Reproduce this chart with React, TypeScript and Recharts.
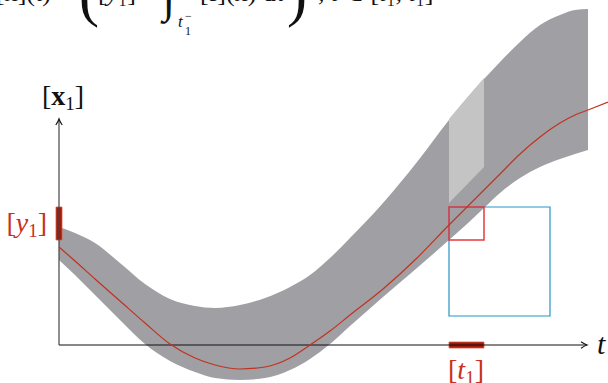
import React from 'react';
import { ComposedChart, Area, Line, XAxis, YAxis, ReferenceArea, ReferenceLine, ReferenceDot } from 'recharts';

// sample times of the enclosure tube
const tSamples = [0, 1.6, 3.6, 6.1, 8.6, 11.1, 13.6, 15.6, 18.1, 20.6, 23.1, 25.1, 27.1, 29.1, 32.4, 35.8, 39.0, 40.8, 42.5, 44.1, 46.1, 48.1, 50.1, 51.6, 52.9];
const tubeUpper = [11.8, 11.2, 10.2, 8.2, 6.1, 4.6, 3.9, 3.7, 4.0, 4.7, 5.8, 7.0, 8.7, 10.7, 14.2, 18.3, 22.5, 24.7, 26.6, 28.3, 30.3, 32.0, 33.0, 33.5, 33.6];
const tubeLower = [8.5, 7.0, 5.0, 2.5, 0.1, -1.6, -2.7, -3.3, -3.5, -3.3, -2.5, -1.4, 0.1, 1.9, 4.8, 7.7, 10.5, 12.1, 13.7, 15.2, 16.7, 17.8, 18.6, 19.1, 19.5];

// true trajectory x1(t)
const trajT = [...tSamples, 54.9];
const trajX = [9.8, 8.4, 6.6, 4.4, 2.2, 0.1, -1.3, -2.0, -2.4, -2.2, -1.3, 0.0, 1.4, 3.0, 5.6, 8.7, 12.0, 13.8, 15.5, 17.1, 19.1, 20.8, 22.2, 23.0, 23.5, 24.3];

// a-priori hull over [t1]
const hullT = [39.0, 42.5];
const hullLower = [14.2, 17.8];
const hullUpper = [22.6, 26.7];

// measurement intervals
const t1 = [39.0, 42.5];
const y1 = [10.5, 13.8];
const box = { tEnd: 49.1, yLow: 2.9 };

const tAxisEnd = 52.8;
const xAxisEnd = 22.6;

const tubeRows = tSamples.map((t, i) => ({ t, band: [tubeLower[i], tubeUpper[i]] }));
const trajRows = trajT.map((t, i) => ({ t, x: trajX[i] }));
const hullRows = hullT.map((t, i) => ({ t, band: [hullLower[i], hullUpper[i]] }));

const serif = '"Liberation Serif", "DejaVu Serif", serif';
const INK = '#111';
const RED = '#c8321e';

const ArrowUp = (p: any) => (
  <path
    d={`M ${p.cx - 3.2} ${p.cy + 6} Q ${p.cx - 0.6} ${p.cy + 2} ${p.cx} ${p.cy} Q ${p.cx + 0.6} ${p.cy + 2} ${p.cx + 3.2} ${p.cy + 6}`}
    fill="none"
    stroke={INK}
    strokeWidth={1.1}
  />
);

const ArrowRight = (p: any) => (
  <path
    d={`M ${p.cx - 6} ${p.cy - 3.2} Q ${p.cx - 2} ${p.cy - 0.6} ${p.cx} ${p.cy} Q ${p.cx - 2} ${p.cy + 0.6} ${p.cx - 6} ${p.cy + 3.2}`}
    fill="none"
    stroke={INK}
    strokeWidth={1.1}
  />
);

export default function App() {
  return (
    <div style={{ position: 'absolute', left: 0, top: 0, background: '#fff' }}>
      <ComposedChart width={608} height={383} margin={{ top: 0, right: 0, bottom: 0, left: 0 }}>
        <XAxis type="number" dataKey="t" domain={[-5.9, 54.9]} hide allowDataOverflow />
        <YAxis type="number" domain={[-3.8, 34.5]} hide allowDataOverflow />

        <Area data={tubeRows} dataKey="band" type="monotone" stroke="none" fill="#a09fa4" fillOpacity={1} dot={false} activeDot={false} isAnimationActive={false} />
        <Area data={hullRows} dataKey="band" type="linear" stroke="none" fill="#c4c4c4" fillOpacity={1} dot={false} activeDot={false} isAnimationActive={false} />

        <ReferenceLine segment={[{ x: 0, y: 0 }, { x: tAxisEnd, y: 0 }]} stroke={INK} strokeWidth={1.2} />
        <ReferenceLine segment={[{ x: 0, y: 0 }, { x: 0, y: xAxisEnd }]} stroke="#444" strokeWidth={1.2} />
        <ReferenceDot x={tAxisEnd} y={0} shape={ArrowRight} />
        <ReferenceDot x={0} y={xAxisEnd} shape={ArrowUp} />

        <Line data={trajRows} dataKey="x" type="monotone" stroke="#c1331f" strokeWidth={1.2} dot={false} activeDot={false} isAnimationActive={false} />

        <ReferenceArea x1={t1[0]} x2={box.tEnd} y1={box.yLow} y2={y1[1]} fill="none" stroke="#2596c4" strokeWidth={1.2} fillOpacity={0} />
        <ReferenceArea x1={t1[0]} x2={t1[1]} y1={y1[0]} y2={y1[1]} fill="none" stroke="#e8383f" strokeWidth={1.5} fillOpacity={0} />
        <ReferenceArea x1={-0.3} x2={0.3} y1={y1[0]} y2={y1[1]} fill="#a3190a" fillOpacity={1} stroke="#d75a45" strokeWidth={0.8} />
        <ReferenceArea x1={t1[0]} x2={t1[1]} y1={-0.3} y2={0.3} fill="#a3190a" fillOpacity={1} stroke="#d75a45" strokeWidth={0.8} />

        {/* axis labels */}
        <text x={42} y={105} fontFamily={serif} fontSize={28} fill={INK}>
          [<tspan fontWeight="bold">x</tspan><tspan fontSize={19} dy={5}>1</tspan><tspan dy={-5}>]</tspan>
        </text>
        <text x={47} y={232} fontFamily={serif} fontSize={28} fill={RED} textAnchor="end">
          [<tspan fontStyle="italic">y</tspan><tspan fontSize={19} dy={5}>1</tspan><tspan dy={-5}>]</tspan>
        </text>
        <text x={597} y={354} fontFamily={serif} fontSize={30} fontStyle="italic" fill={INK}>t</text>
        <text x={466} y={379} fontFamily={serif} fontSize={28} fill={RED} textAnchor="middle">
          [<tspan fontStyle="italic">t</tspan><tspan fontSize={19} dy={5}>1</tspan><tspan dy={-5}>]</tspan>
        </text>

        {/* enclosure formula, cut by the top edge */}
        <g fontFamily={serif} fill={INK}>
          <text x={-4} y={1} fontSize={26}>[x](t) =</text>
          <text x={79} y={15} fontSize={60}>(</text>
          <text x={98} y={1} fontSize={26}>[<tspan fontStyle="italic">y</tspan>₁] +</text>
          <text x={163} y={12} fontSize={44} fontStyle="italic">∫</text>
          <text x={178} y={27} fontSize={17} fontStyle="italic">t</text>
          <text x={185} y={35} fontSize={12}>1</text>
          <text x={185} y={20} fontSize={12}>−</text>
          <text x={200} y={1} fontSize={26}>[f](x) d<tspan fontStyle="italic">τ</tspan></text>
          <text x={287} y={15} fontSize={60}>)</text>
          <text x={318} y={1} fontSize={26}>, <tspan fontStyle="italic">t</tspan> ∈ [<tspan fontStyle="italic">t</tspan>₁, <tspan fontStyle="italic">t</tspan>₁]</text>
        </g>
      </ComposedChart>
    </div>
  );
}
